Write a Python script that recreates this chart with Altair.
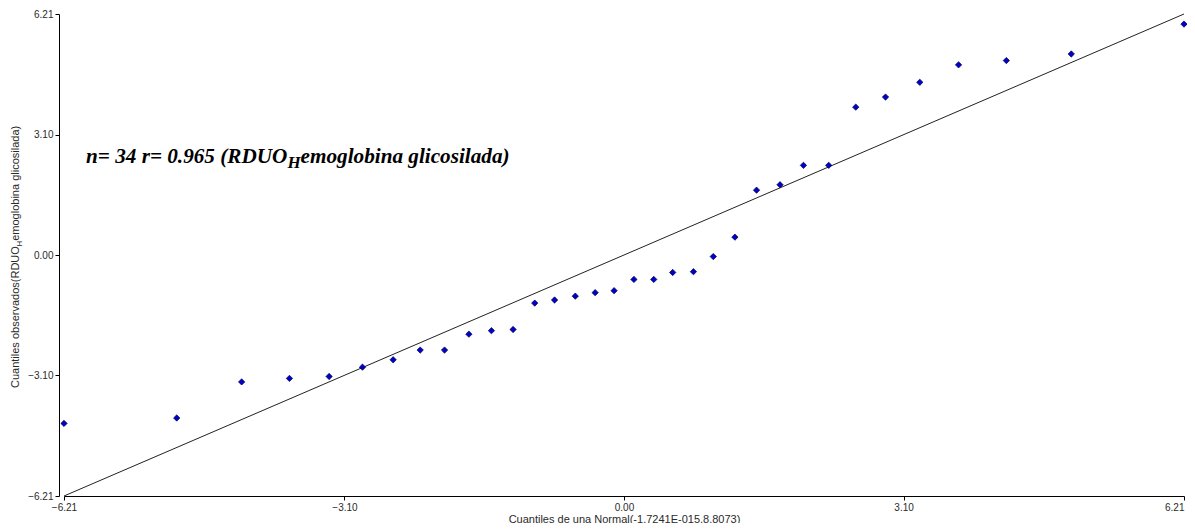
import altair as alt
import pandas as pd

normal_q = [-6.21, -4.96, -4.24, -3.71, -3.27, -2.90, -2.56, -2.26, -1.99, -1.72,
            -1.47, -1.23, -0.99, -0.77, -0.54, -0.32, -0.11, 0.11, 0.33, 0.54,
            0.77, 0.99, 1.23, 1.47, 1.73, 1.99, 2.27, 2.57, 2.90, 3.28,
            3.71, 4.24, 4.96, 6.21]
observed_q = [-4.34, -4.20, -3.27, -3.18, -3.13, -2.89, -2.70, -2.45, -2.45, -2.04,
              -1.95, -1.92, -1.24, -1.16, -1.06, -0.97, -0.92, -0.63, -0.63, -0.45,
              -0.43, -0.04, 0.46, 1.67, 1.81, 2.31, 2.31, 3.81, 4.07, 4.45,
              4.90, 5.01, 5.18, 5.95]
ref_x = [-6.21, 6.21]
ref_y = [-6.21, 6.21]
tick_vals = [-6.21, -3.10, 0.00, 3.10, 6.21]
x_title = "Cuantiles de una Normal(-1.7241E-015,8.8073)"
y_title_parts = ["Cuantiles observados(RDUO", "H", "emoglobina glicosilada)"]
note_parts = ["n= 34 r= 0.965 (RDUO", "H", "emoglobina glicosilada)"]

pts = pd.DataFrame({"x": normal_q, "y": observed_q})
ref = pd.DataFrame({"x": ref_x, "y": ref_y})

sans = "Liberation Sans"
serif = "Liberation Serif"

xs = alt.Scale(domain=[-6.21, 6.21], nice=False, zero=False)
ys = alt.Scale(domain=[-6.21, 6.21], nice=False, zero=False)

common = dict(values=tick_vals, format=".2f", grid=False, tickSize=4, labelPadding=2,
              labelFontSize=10, labelFont=sans, labelColor="#2a2a2a",
              domainColor="#000000", tickColor="#000000", labelFlush=False,
              labelOverlap=False)
x_axis = alt.Axis(title=x_title, titlePadding=1, titleFontSize=11, titleFont=sans,
                  titleFontWeight="normal", titleColor="#2a2a2a",
                  labelAlign={"condition": {"test": "datum.value > 6", "value": "right"},
                              "value": "center"},
                  **common)
y_axis = alt.Axis(title=None, offset=5, **common)

line = alt.Chart(ref).mark_line(color="#222222", strokeWidth=1).encode(
    x=alt.X("x:Q", scale=xs, axis=x_axis),
    y=alt.Y("y:Q", scale=ys, axis=y_axis),
)

points = alt.Chart(pts).mark_point(
    shape="diamond", filled=True, size=40, color="#0000CC",
    stroke="#000044", strokeWidth=0.7, opacity=1
).encode(x=alt.X("x:Q", scale=xs), y=alt.Y("y:Q", scale=ys))

one = pd.DataFrame({"k": [0]})

def ylab(text, dx, size, dy=0):
    return alt.Chart(one).mark_text(
        text=text, angle=270, align="left", baseline="alphabetic",
        font=sans, fontSize=size, color="#2a2a2a", dx=dx, dy=dy
    ).encode(x=alt.value(-45), y=alt.value(374))

def note(text, dx, size, dy=0, weight="bold", style="italic"):
    return alt.Chart(one).mark_text(
        text=text, align="left", baseline="alphabetic", font=serif,
        fontSize=size, fontWeight=weight, fontStyle=style, color="#000000",
        dx=dx, dy=dy
    ).encode(x=alt.value(22), y=alt.value(149))

layers = [
    line, points,
    ylab(y_title_parts[0], 0, 11),
    ylab(y_title_parts[1], 141.4, 8, 3),
    ylab(y_title_parts[2], 147.2, 11),
    note(note_parts[0], 0, 21.2),
    note(note_parts[1], 201.4, 17, 5),
    note(note_parts[2], 214.6, 21.2),
]

chart = alt.layer(*layers).properties(
    width=1120, height=482,
    autosize=alt.AutoSizeParams(type="none"),
    padding={"left": 56, "top": 6, "right": 3, "bottom": 27},
).configure_view(stroke=None)

chart.save("out.html", embed_options={"renderer": "svg", "actions": False})
